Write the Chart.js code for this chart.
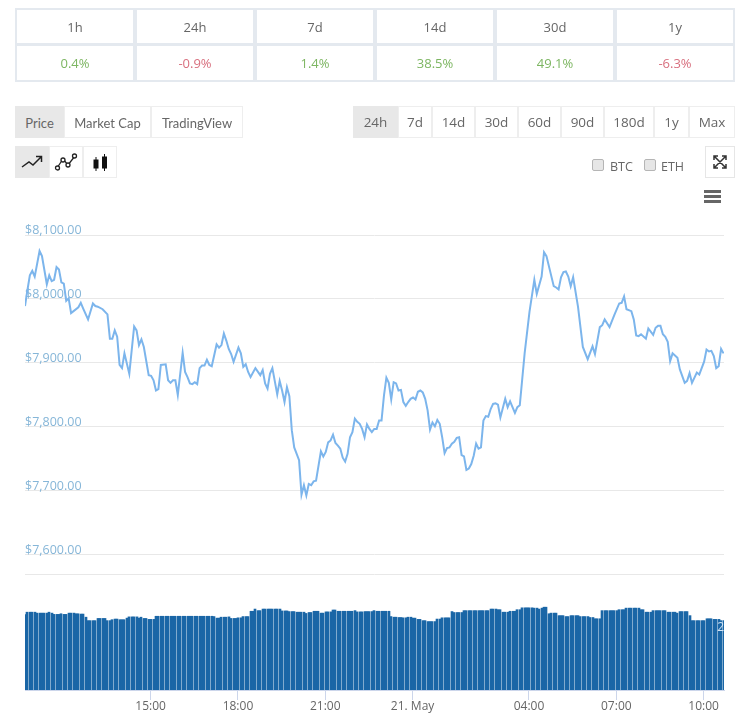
<!DOCTYPE html>
<html>
<head>
<meta charset="utf-8">
<title>Price chart</title>
<script src="https://cdn.jsdelivr.net/npm/chart.js@4/dist/chart.umd.js"></script>
<style>
    html, body { margin: 0; padding: 0; background: #fff; }
    body { width: 754px; height: 720px; position: relative; overflow: hidden; font-family: "Open Sans", sans-serif; color: #666; }
    canvas { position: absolute; left: 0; top: 0; }
    .cell, .btn, .box { position: absolute; box-sizing: border-box; text-align: center; }
    .cell { border: 2px solid #e4e9ef; font-size: 13px; line-height: 34px; }
    .up, .down { line-height: 35px; }
    .up { color: #7db662; }
    .down { color: #d8707f; }
    .btn { border: 1px solid #eeeeee; background: #fff; font-size: 13.5px; line-height: 30px; height: 32px; }
    .btn.active { background: #e8e8e8; border-color: #e8e8e8; }
    .btn.narrow { font-family: Lato, sans-serif; font-size: 13px; line-height: 33px; }
    .btn svg { display: block; margin: 4px auto 0; }
    .box { width: 12px; height: 12px; top: 159px; background: #e6e6e6; border: 1px solid #b5b5b5; border-radius: 2px; }
    .lab { position: absolute; top: 158px; font-size: 12.5px; line-height: 18px; }
    .burger { position: absolute; left: 704px; width: 17px; height: 3px; background: #666; }
</style>
</head>
<body>
<canvas id="chart" width="754" height="720"></canvas>
<div id="top"></div>
<div class="btn active" style="left:15px;top:146px;width:34px"><svg width="24" height="22" fill="none" stroke="#222" stroke-width="1.5"><path d="M2 16l7-5 4 3 8-8M16 5.500h5.500V11"/></svg></div>
<div class="btn" style="left:49px;top:146px;width:34px"><svg width="24" height="22" fill="#fff" stroke="#222" stroke-width="1.300"><path d="M3 17l6-9 5 6 7-9"/><circle cx="3.500" cy="17" r="2"/><circle cx="9" cy="9" r="2"/><circle cx="14" cy="14" r="2"/><circle cx="20.500" cy="5" r="2"/></svg></div>
<div class="btn" style="left:83px;top:146px;width:34px"><svg width="24" height="22" stroke="#111" stroke-width="1"><path d="M8 6v14M16.500 3v17"/><rect x="6" y="9" width="4" height="8" fill="#111"/><rect x="14.500" y="6" width="4" height="11" fill="#111"/></svg></div>
<div class="btn" style="left:705px;top:146px;width:30px;border-color:#e6e6e6"><svg width="16" height="22" fill="none" stroke="#333" stroke-width="1.500"><path d="M2 5l12 12M14 5L2 17M2 9V5h4M10 5h4v4M2 13v4h4M10 17h4v-4"/></svg></div>
<div class="box" style="left:592px"></div><div class="lab" style="left:610px">BTC</div>
<div class="box" style="left:644px"></div><div class="lab" style="left:661px">ETH</div>
<div class="burger" style="top:190px"></div><div class="burger" style="top:195px"></div><div class="burger" style="top:200px"></div>

<script>
// change table
const periods = ['1h', '24h', '7d', '14d', '30d', '1y'];
const changes = ['0.4%', '-0.9%', '1.4%', '38.5%', '49.1%', '-6.3%'];
const chartTabs = ['Price', 'Market Cap', 'TradingView'];
const chartTabEdges = [15, 64, 151, 243];
const rangeTabs = ['24h', '7d', '14d', '30d', '60d', '90d', '180d', '1y', 'Max'];
const rangeTabEdges = [353, 398, 432, 475, 518, 561, 604, 654, 689, 735];

// 5 minute slots counted from the left edge of the chart
const startMinute = 641;
const slotMinutes = 5;
const priceSlots = [0,1,2,3,4,6,7,9,10,11,12,13,14,15,16,17,18,19,22,23,24,26,28,29,30,32,34,35,36,37,38,39,40,41,43,45,46,47,48,49,51,52,53,54,55,56,58,59,60,61,62,63,65,66,67,68,69,70,71,72,73,74,75,76,77,79,80,81,82,83,84,85,86,88,89,90,91,92,93,
    95,97,98,99,100,101,102,104,105,106,107,108,109,110,111,113,114,115,116,117,118,119,120,122,123,124,125,126,127,128,129,130,131,132,133,134,135,136,137,138,139,140,141,142,143,144,145,146,147,148,149,150,151,152,153,154,155,156,157,158,159,160,161,162,163,164,165,166,167,168,169,170,171,172,173,174,175,176,177,178,179,180,181,182,183,184,185,186,187,188,189,190,191,192,193,194,195,196,
    198,199,200,202,203,204,206,208,210,211,213,214,215,218,219,220,221,222,223,224,225,226,228,230,232,234,235,237,238,239,241,243,245,246,247,248,250,251,252,253,254,256,257,259,260,261,262,263,264,265,266,267,269,270,272,273,274,275,277,278,280,281,282,283,284,285,286,287,288];
const prices = [7989,8014,8037,8044,8035,8075,8067,8023,8037,8028,8030,8050,8046,8026,8024,7997,8001,7978,7987,7994,7985,7968,7993,7989,7988,7984,7976,7938,7938,7951,7941,7897,7892,7915,7883,7957,7951,7928,7937,7925,7881,7880,7873,7857,7859,7897,7898,7873,7869,7873,7873,7850,7916,7886,7878,7868,7867,7870,7867,7892,7896,7896,7905,7897,7895,7929,7924,7928,7946,7935,7922,7914,7902,7924,7915,7894,7898,7886,7878,
    7892,7881,7889,7868,7860,7883,7892,7851,7872,7857,7839,7862,7848,7795,7768,7748,7694,7709,7693,7711,7709,7715,7716,7762,7754,7761,7776,7779,7788,7775,7771,7766,7752,7746,7758,7784,7792,7813,7808,7805,7797,7784,7804,7797,7792,7797,7797,7810,7810,7849,7877,7869,7843,7870,7868,7857,7858,7839,7833,7839,7844,7846,7843,7855,7857,7854,7844,7826,7796,7807,7801,7811,7805,7784,7759,7767,7768,7774,7777,7783,7784,7756,7754,7733,7735,7742,7755,7774,7766,7768,7810,7817,7816,7828,7836,7837,7835,7815,
    7844,7831,7840,7822,7831,7834,7915,7980,8030,8008,8035,8073,8067,8020,8018,8015,8034,8042,8043,8035,8020,8034,7988,7925,7906,7926,7914,7956,7959,7968,7956,7975,7993,7994,8004,7984,7981,7968,7943,7942,7945,7938,7954,7944,7955,7958,7958,7945,7941,7933,7903,7915,7908,7890,7869,7872,7884,7869,7885,7882,7902,7921,7918,7919,7911,7892,7895,7922,7915];

// volume in billions, one bar per slot
const volumes = [24.1,24.9,24.9,24.9,24.9,24.6,24.6,24.6,24.6,24.6,24.9,24.6,24.2,24.2,24.2,24.4,24.2,24.2,24.6,24.6,24.6,24.4,24.4,24.3,24.3,23.3,22.2,22.2,22.2,22.2,22.9,22.9,22.9,22.9,22.2,22.2,22.5,22.7,22.7,22.5,22.5,22.5,23.0,23.4,23.4,23.4,23.4,23.0,23.3,22.9,22.9,22.6,22.6,22.6,
    23.6,23.6,23.6,23.6,23.6,23.6,23.6,23.6,23.6,23.6,23.6,23.6,23.6,23.6,23.6,23.6,23.6,23.6,23.6,23.6,23.6,23.6,23.6,23.6,23.5,23.0,23.0,23.3,23.3,23.3,23.4,22.9,22.9,22.9,23.1,23.1,23.5,23.5,23.5,25.2,25.2,25.9,25.4,25.4,25.9,25.9,25.9,25.9,25.9,25.9,25.9,25.9,25.3,25.3,25.3,25.1,25.1,25.1,24.9,24.9,24.9,24.9,24.5,24.8,24.8,25.2,25.2,25.2,24.6,24.6,25.0,25.0,25.0,25.6,25.6,25.2,25.2,25.2,25.2,25.2,25.2,25.2,25.4,25.0,25.0,25.0,25.1,25.1,25.1,25.1,25.4,25.2,
    25.2,25.2,25.2,25.2,25.2,23.5,23.3,23.3,23.2,23.2,23.1,23.1,23.3,23.3,23.0,23.0,22.6,22.6,22.2,22.2,21.9,21.9,21.9,21.9,22.7,22.7,23.1,23.1,23.1,23.1,25.1,24.8,24.8,24.8,24.8,25.4,25.4,25.4,25.4,25.4,25.4,25.4,25.4,25.4,25.4,25.4,25.9,25.9,25.9,25.7,25.7,24.9,24.9,24.9,25.2,25.2,25.2,25.7,25.7,26.3,26.3,26.3,26.3,26.3,26.2,26.2,25.9,26.2,26.5,26.5,24.4,24.6,24.6,24.6,23.8,23.8,23.8,23.5,23.5,23.8,23.8,23.8,23.8,23.5,23.5,23.5,23.5,23.2,23.2,22.8,22.8,22.8,25.4,25.4,25.4,25.4,25.4,25.4,25.4,25.7,25.7,25.7,26.2,26.2,26.2,26.2,26.2,26.2,25.7,25.7,24.9,24.9,24.9,25.4,25.4,25.4,25.4,25.4,25.4,24.9,24.9,24.9,24.9,24.6,25.1,25.1,25.1,25.1,23.8,22.2,22.2,22.2,22.2,22.2,22.2,22.8,22.8,22.8,22.6,22.6,22.6,22.2,22.2];

// axis ticks
const priceTicks = [8100, 8000, 7900, 7800, 7700, 7600];
const paneFloor = 7569;
const priceMin = 7389;
const priceMax = 8100;
const volumeMax = 145.6;
const volumeTick = 20;
const timeTickMinutes = [900, 1080, 1260, 1440, 1680, 1860, 2040];
const timeTickLabels = ['15:00', '18:00', '21:00', '21. May', '04:00', '07:00', '10:00'];

function addTabs(labels, edges, activeIdx, extraClass) {
    labels.forEach(function(label, i) {
        var d = document.createElement('div');
        d.className = 'btn' + (i === activeIdx ? ' active' : '') + (extraClass ? ' ' + extraClass : '');
        d.style.cssText = 'left:' + edges[i] + 'px;top:106px;width:' + (edges[i + 1] - edges[i]) + 'px';
        d.textContent = label;
        document.getElementById('top').appendChild(d);
    });
}

function addTable() {
    periods.forEach(function(p, i) {
        var left = 15 + i * 120;
        var head = document.createElement('div');
        head.className = 'cell';
        head.style.cssText = 'left:' + left + 'px;top:8px;width:120px;height:37px';
        head.textContent = p;
        var val = document.createElement('div');
        val.className = 'cell ' + (changes[i].charAt(0) === '-' ? 'down' : 'up');
        val.style.cssText = 'left:' + left + 'px;top:44px;width:120px;height:38px';
        val.textContent = changes[i];
        document.getElementById('top').appendChild(head);
        document.getElementById('top').appendChild(val);
    });
}

addTable();
addTabs(chartTabs, chartTabEdges, 0, 'narrow');
addTabs(rangeTabs, rangeTabEdges, 0);

function slotToMinute(s) {
    return startMinute + s * slotMinutes;
}

// same as the crisp columns on the original: whole pixel bars, so a 1px gap shows up now and then
const snapBars = {
    id: 'snapBars',
    afterDatasetsUpdate: function(chart) {
        chart.getDatasetMeta(1).data.forEach(function(bar) {
            bar.x = Math.round(bar.x);
            bar.width = 2;
        });
    }
};

new Chart(document.getElementById('chart'), {
    data: {
        datasets: [
            {
                type: 'line',
                data: priceSlots.map(function(s, i) { return { x: slotToMinute(s), y: prices[i] }; }),
                yAxisID: 'y',
                borderColor: '#7cb5ec',
                borderWidth: 2,
                pointRadius: 0,
                tension: 0,
                order: 1
            },
            {
                type: 'bar',
                data: volumes.map(function(v, i) { return { x: slotToMinute(i), y: v }; }),
                yAxisID: 'vol',
                backgroundColor: '#1a66a6',
                barThickness: 2,
                order: 2
            }
        ]
    },
    plugins: [snapBars],
    options: {
        responsive: false,
        animation: false,
        layout: { padding: { left: 25, right: 30, top: 235, bottom: 0 } },
        plugins: { legend: { display: false }, tooltip: { enabled: false } },
        scales: {
            x: {
                type: 'linear',
                offset: false,
                min: startMinute,
                max: slotToMinute(volumes.length - 1) + 1,
                afterBuildTicks: function(axis) {
                    axis.ticks = timeTickMinutes.map(function(v) { return { value: v }; });
                },
                afterFit: function(axis) { axis.height = 30; },
                grid: { offset: false, drawOnChartArea: false, drawTicks: true, tickLength: 10, tickColor: '#ccd6eb' },
                border: { color: '#ccd6eb' },
                ticks: {
                    color: '#666',
                    font: { family: 'Open Sans', size: 12 },
                    padding: -1,
                    maxRotation: 0,
                    autoSkip: false,
                    callback: function(v) { return timeTickLabels[timeTickMinutes.indexOf(v)]; }
                }
            },
            y: {
                position: 'left',
                min: priceMin,
                max: priceMax,
                afterBuildTicks: function(axis) {
                    axis.ticks = priceTicks.concat([paneFloor]).map(function(v) { return { value: v }; });
                },
                grid: { color: '#e8e8e8', drawTicks: false },
                border: { display: false },
                ticks: {
                    mirror: true,
                    padding: 0,
                    labelOffset: -5,
                    color: '#86b6d8',
                    font: { family: 'Open Sans', size: 12.5 },
                    callback: function(v) {
                        if (v === paneFloor) return '';
                        return '$' + v.toLocaleString('en-US') + '.00';
                    }
                }
            },
            vol: {
                position: 'right',
                min: 0,
                max: volumeMax,
                afterBuildTicks: function(axis) { axis.ticks = [{ value: volumeTick }]; },
                afterFit: function(axis) { axis.width = 0; },
                grid: { display: false },
                border: { display: false },
                ticks: {
                    mirror: true,
                    padding: 0,
                    z: 2,
                    color: '#cfe3f5',
                    font: { family: 'Open Sans', size: 12 },
                    callback: function() { return '2'; }
                }
            }
        }
    }
});
</script>
</body>
</html>
